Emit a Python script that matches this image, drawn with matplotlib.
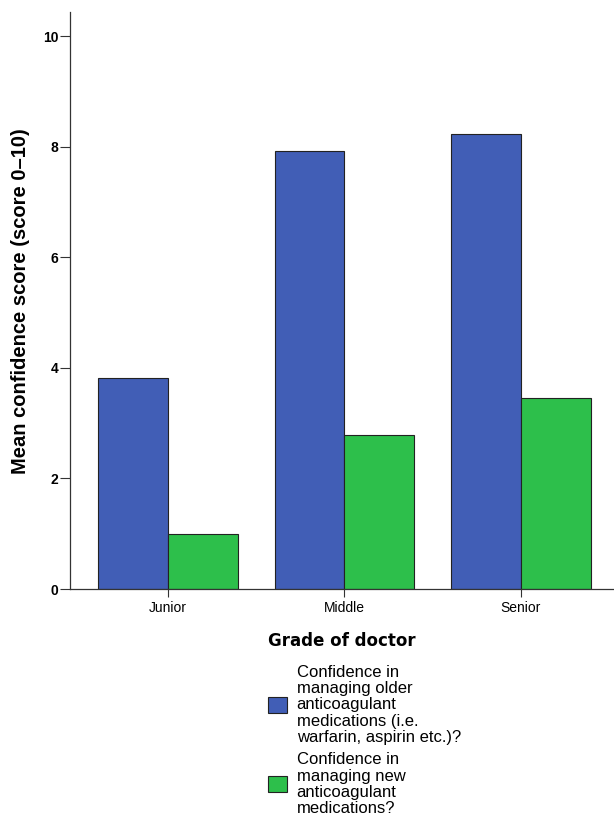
import matplotlib.pyplot as plt
import numpy as np
from matplotlib.patches import Patch

# data
grades = ['Junior', 'Middle', 'Senior']
older_meds = [3.82, 7.92, 8.23]
new_meds = [0.99, 2.78, 3.45]
series_labels = ['Confidence in\nmanaging older\nanticoagulant\nmedications (i.e.\nwarfarin, aspirin etc.)?',
                 'Confidence in\nmanaging new\nanticoagulant\nmedications?']
yticks = [0, 2, 4, 6, 8, 10]

blue = '#415EB6'
green = '#2DBF4B'

plt.rcParams['font.family'] = ['Liberation Sans', 'DejaVu Sans']

fig = plt.figure(figsize=(6.14, 8.25), dpi=100)
ax = fig.add_axes([0.114, 0.286, 0.884, 0.699])

x = np.arange(len(grades))
w = 0.395
ax.bar(x - w / 2, older_meds, w, color=blue, edgecolor='#222222', linewidth=0.8)
ax.bar(x + w / 2, new_meds, w, color=green, edgecolor='#222222', linewidth=0.8)

ax.set_xlim(-0.555, 2.52)
ax.set_ylim(0, 10.43)
ax.set_xticks(x)
ax.set_xticklabels(grades, fontsize=10)
ax.set_yticks(yticks)
ax.set_yticklabels([str(t) for t in yticks], fontsize=10, fontweight='bold')
ax.tick_params(axis='y', direction='out', length=7, width=0.8, color='#333333', pad=1.5)
ax.tick_params(axis='x', direction='out', length=6, width=0.8, color='#333333', pad=2.5)
for s in ['top', 'right']:
    ax.spines[s].set_visible(False)
for s in ['left', 'bottom']:
    ax.spines[s].set_color('#333333')
    ax.spines[s].set_linewidth(0.9)

ax.set_ylabel('Mean confidence score (score 0\u201310)', fontsize=14.5, fontweight='bold', labelpad=9)
ax.set_xlabel('Grade of doctor', fontsize=12, fontweight='bold', family='DejaVu Sans', labelpad=12)

handles = [Patch(facecolor=blue, edgecolor='#222222', linewidth=0.8),
           Patch(facecolor=green, edgecolor='#222222', linewidth=0.8)]
fig.legend(handles, series_labels, loc='upper left', bbox_to_anchor=(0.4235, 0.204),
           frameon=False, fontsize=12, handlelength=1.1, handleheight=1.1,
           handletextpad=0.6, borderpad=0, labelspacing=0.45)
for t in fig.legends[0].get_texts():
    t.set_linespacing(1.1)

fig.savefig('out.png', dpi=100)
